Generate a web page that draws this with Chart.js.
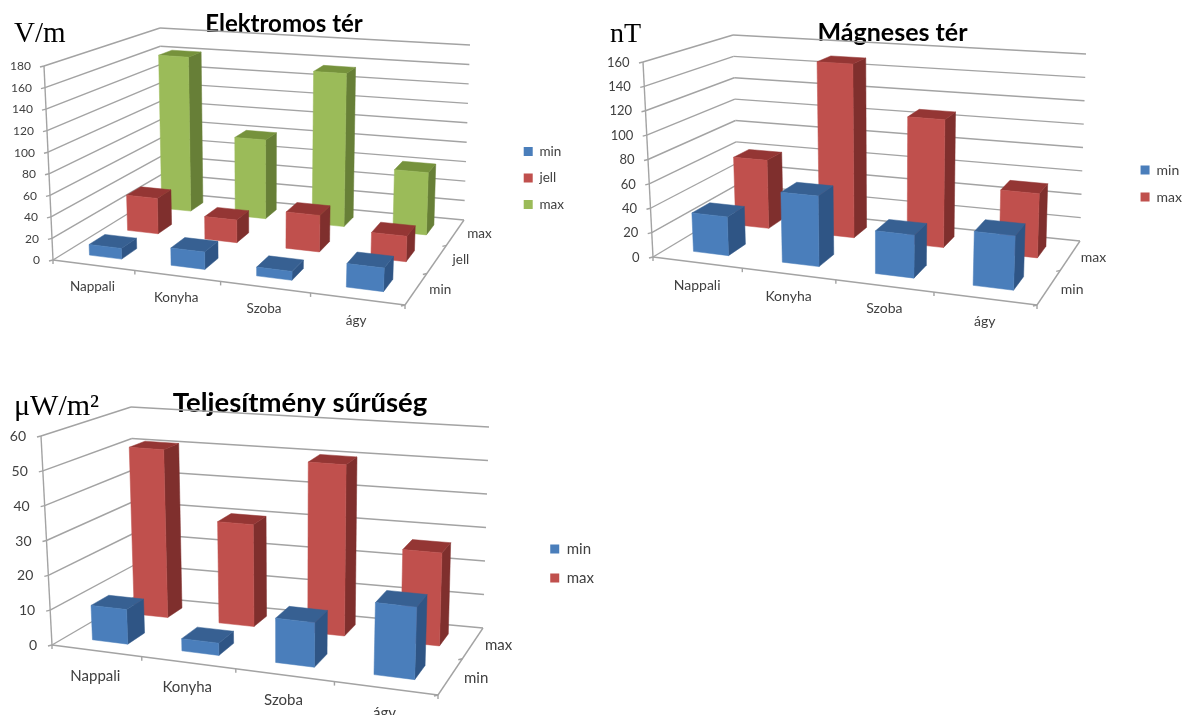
<!DOCTYPE html>
<html lang="en">
<head>
<meta charset="UTF-8">
<title>Elektromos tér, Mágneses tér, Teljesítmény sűrűség</title>
<style>
   html, body { margin: 0; background: #fff; }
   #page { position: relative; width: 1182px; height: 715px; overflow: hidden; }
   canvas { position: absolute; }
</style>
<script src="https://cdn.jsdelivr.net/npm/chart.js@4/dist/chart.umd.js"></script>
</head>
<body>
<div id="page">
   <canvas id="c1" width="580" height="356" style="left:-6px;top:0"></canvas>
   <canvas id="c2" width="599" height="367" style="left:593px;top:0"></canvas>
   <canvas id="c3" width="608" height="377" style="left:-4px;top:375px"></canvas>
</div>
<script>
const categories = ['Nappali', 'Konyha', 'Szoba', 'ágy'];

const elektromosMin = [10, 16, 8, 21];
const elektromosJell = [35, 22, 35, 24];
const elektromosMax = [161, 81, 155, 62];
const elektromosTicks = [0, 20, 40, 60, 80, 100, 120, 140, 160, 180];

const magnesesMin = [32, 57, 34, 42];
const magnesesMax = [60, 150, 108, 53];
const magnesesTicks = [0, 20, 40, 60, 80, 100, 120, 140, 160];

const teljesitmenyMin = [10, 3.5, 12.5, 20];
const teljesitmenyMax = [51, 30.5, 50.5, 27];
const teljesitmenyTicks = [0, 10, 20, 30, 40, 50, 60];

// front, top, side
const BLUE = ['#4a7ebb', '#376092', '#2f5585'];
const RED = ['#c0504d', '#943634', '#7f2f2d'];
const GREEN = ['#9bbb59', '#76923c', '#677f37'];

const U_WARP = 1.1;
const D_WARP = 0.85;
const warp = (t, w) => t / (t + (1 - t) * w);

// u: along categories, v: up the value axis, d: into the depth
const project = (g, u, v, d) => {
   const uu = warp(u, U_WARP), dd = warp(d, D_WARP);
   const res = [0, 1].map(i => {
      const fb = g.fl0[i] + (g.fr0[i] - g.fl0[i]) * uu;
      const bb = g.bl0[i] + (g.br0[i] - g.bl0[i]) * uu;
      const ft = g.flt[i] + (g.frt[i] - g.flt[i]) * uu;
      const bt = g.blt[i] + (g.brt[i] - g.blt[i]) * uu;
      const b = fb + (bb - fb) * dd;
      const t = ft + (bt - ft) * dd;
      return b + (t - b) * v;
   });
   return { x: res[0] - g.ox, y: res[1] - g.oy };
};

const poly = (ctx, pts, color) => {
   ctx.beginPath();
   pts.forEach((p, i) => i ? ctx.lineTo(p.x, p.y) : ctx.moveTo(p.x, p.y));
   ctx.closePath();
   ctx.fillStyle = color;
   ctx.strokeStyle = color;
   ctx.lineWidth = 0.5;
   ctx.fill();
   ctx.stroke();
};

class Bar3DController extends Chart.BarController {
   draw() {
      const chart = this.chart, ctx = chart.ctx;
      const meta = this.getMeta();
      const g = chart.options.plugins.frame3d.geo;
      const xs = chart.scales.x, ys = chart.scales.y;
      const n = chart.data.datasets.length;
      const ds = this.getDataset();
      const dFill = chart.options.plugins.frame3d.depthFill;
      const d0 = (this.index + 0.5 - dFill / 2) / n;
      const d1 = (this.index + 0.5 + dFill / 2) / n;
      ctx.save();
      meta.data.forEach(bar => {
         const u0 = (bar.x - bar.width / 2 - xs.left) / xs.width;
         const u1 = (bar.x + bar.width / 2 - xs.left) / xs.width;
         const v = (ys.bottom - bar.y) / ys.height;
         const P = (u, vv, d) => project(g, u, vv, d);
         poly(ctx, [P(u1, 0, d0), P(u1, 0, d1), P(u1, v, d1), P(u1, v, d0)], ds.faces[2]);
         poly(ctx, [P(u0, v, d0), P(u1, v, d0), P(u1, v, d1), P(u0, v, d1)], ds.faces[1]);
         poly(ctx, [P(u0, 0, d0), P(u1, 0, d0), P(u1, v, d0), P(u0, v, d0)], ds.faces[0]);
      });
      ctx.restore();
   }
}
Bar3DController.id = 'bar3d';
Bar3DController.defaults = Chart.BarController.defaults;
Chart.register(Bar3DController);

const frame3d = {
   id: 'frame3d',
   beforeDatasetsDraw(chart, args, opts) {
      const ctx = chart.ctx, g = opts.geo;
      const xs = chart.scales.x, ys = chart.scales.y;
      const P = (u, v, d) => project(g, u, v, d);
      const line = (a, b) => { ctx.beginPath(); ctx.moveTo(a.x, a.y); ctx.lineTo(b.x, b.y); ctx.stroke(); };
      ctx.save();
      ctx.strokeStyle = '#a3a3a3';
      ctx.lineWidth = 1.4;

      // walls, from the y scale ticks
      ctx.fillStyle = '#404040';
      ctx.font = opts.fontSize + 'px Lato';
      ctx.textBaseline = 'middle';
      ctx.textAlign = 'right';
      ys.ticks.forEach(t => {
         const v = (ys.bottom - ys.getPixelForValue(t.value)) / ys.height;
         const a = P(0, v, 0), b = P(0, v, 1), c = P(1, v, 1);
         line(a, b);
         line(b, c);
         line({ x: a.x - 4, y: a.y + 1 }, a);
         ctx.fillText(t.label, a.x - opts.tickGap, a.y + 0.5);
      });
      line(P(0, 0, 0), P(0, 1, 0));

      // floor edges
      line(P(0, 0, 0), P(1, 0, 0));
      line(P(1, 0, 0), P(1, 0, 1));

      // category ticks sit between the categories, labels under the middle
      const step = 1 / xs.ticks.length;
      for (let i = 0; i <= xs.ticks.length; i++) {
         const p = P(i * step, 0, 0);
         line(p, { x: p.x, y: p.y + 4 });
      }
      ctx.font = opts.labelSize + 'px Lato';
      ctx.textAlign = 'center';
      xs.ticks.forEach((t, i) => {
         const u = (xs.getPixelForTick(i) - xs.left) / xs.width;
         const p = P(u, 0, 0);
         ctx.fillText(xs.getLabelForValue(t.value), p.x + opts.catOffset[0], p.y + opts.catOffset[1]);
      });

      // depth axis
      const n = chart.data.datasets.length;
      for (let i = 1; i <= n; i++) {
         const p = P(1, 0, (i - 1) / n);
         line(p, { x: p.x - 4, y: p.y + 1 });
      }
      chart.data.datasets.forEach((ds, i) => {
         const p = P(1, 0, (i + 0.5) / n);
         ctx.fillText(ds.label, p.x + opts.depthOffset[0], p.y + opts.depthOffset[1]);
      });

      // unit text
      ctx.fillStyle = '#000';
      ctx.font = opts.unitSize + 'px "Liberation Serif"';
      ctx.textAlign = 'left';
      ctx.textBaseline = 'alphabetic';
      ctx.fillText(ys.options.title.text, opts.unitPos[0] - g.ox, opts.unitPos[1] - g.oy);
      ctx.restore();
   }
};

const makeChart = (id, title, rows, ticks, cfg) => {
   new Chart(document.getElementById(id), {
      type: 'bar3d',
      data: {
         labels: categories,
         datasets: rows.map(r => ({
            label: r[0],
            data: r[1],
            faces: r[2],
            backgroundColor: r[2][0],
            grouped: false,
            clip: false,
            barPercentage: 0.4,
            categoryPercentage: 1
         }))
      },
      options: {
         responsive: false,
         animation: false,
         scales: {
            x: { type: 'category', display: false, offset: true },
            y: {
               type: 'linear',
               display: false,
               min: ticks[0],
               max: ticks[ticks.length - 1],
               ticks: { stepSize: ticks[1] - ticks[0] },
               title: { text: cfg.unit }
            }
         },
         plugins: {
            title: {
               display: true,
               text: title,
               color: '#000',
               font: { family: 'Lato', weight: 'bold', size: cfg.titleSize },
               padding: cfg.titlePadding
            },
            legend: {
               position: 'right',
               labels: {
                  boxWidth: 9,
                  boxHeight: 9,
                  color: '#404040',
                  font: { family: 'Lato', size: cfg.labelSize },
                  padding: cfg.legendGap
               }
            },
            tooltip: { enabled: false },
            frame3d: {
               geo: cfg.geo,
               depthFill: 0.4,
               fontSize: cfg.fontSize,
               labelSize: cfg.labelSize,
               tickGap: cfg.tickGap,
               unitSize: cfg.unitSize,
               unitPos: cfg.unitPos,
               catOffset: cfg.catOffset,
               depthOffset: cfg.depthOffset
            }
         }
      },
      plugins: [frame3d]
   });
};

makeChart('c1', 'Elektromos tér',
   [['min', elektromosMin, BLUE], ['jell', elektromosJell, RED], ['max', elektromosMax, GREEN]],
   elektromosTicks, {
      unit: 'V/m', unitSize: 29, unitPos: [14, 42],
      fontSize: 12, labelSize: 13.5, tickGap: 13, titleSize: 24, titlePadding: { top: 10, bottom: 8 },
      legendGap: 13,
      catOffset: [-1, 21.5], depthOffset: [24, 1],
      geo: { ox: -6, oy: 0, fl0: [53, 260], flt: [44, 66], fr0: [405, 305], frt: [413, 98],
             bl0: [163, 192], blt: [160, 28], br0: [464, 220], brt: [470, 45] }
   });

makeChart('c2', 'Mágneses tér',
   [['min', magnesesMin, BLUE], ['max', magnesesMax, RED]],
   magnesesTicks, {
      unit: 'nT', unitSize: 28, unitPos: [610, 42],
      fontSize: 13, labelSize: 14, tickGap: 13.5, titleSize: 25, titlePadding: { top: 18, bottom: 8 },
      legendGap: 13,
      catOffset: [0, 23], depthOffset: [23, 2.5],
      geo: { ox: 593, oy: 0, fl0: [653, 257], flt: [643, 62], fr0: [1037, 305], frt: [1045, 92],
             bl0: [738, 206], blt: [733, 35], br0: [1080, 241], brt: [1086, 54] }
   });

makeChart('c3', 'Teljesítmény sűrűség',
   [['min', teljesitmenyMin, BLUE], ['max', teljesitmenyMax, RED]],
   teljesitmenyTicks, {
      unit: 'μW/m²', unitSize: 30, unitPos: [14, 415],
      fontSize: 14, labelSize: 15, tickGap: 15, titleSize: 27.5, titlePadding: { top: 11.5, bottom: 8 },
      legendGap: 14,
      catOffset: [-1, 25], depthOffset: [25.5, 2.5],
      geo: { ox: -4, oy: 375, fl0: [52, 645], flt: [41, 436], fr0: [438, 695], frt: [446, 473],
             bl0: [136, 596], blt: [131, 407], br0: [483, 628], brt: [489, 427] }
   });
</script>
</body>
</html>
